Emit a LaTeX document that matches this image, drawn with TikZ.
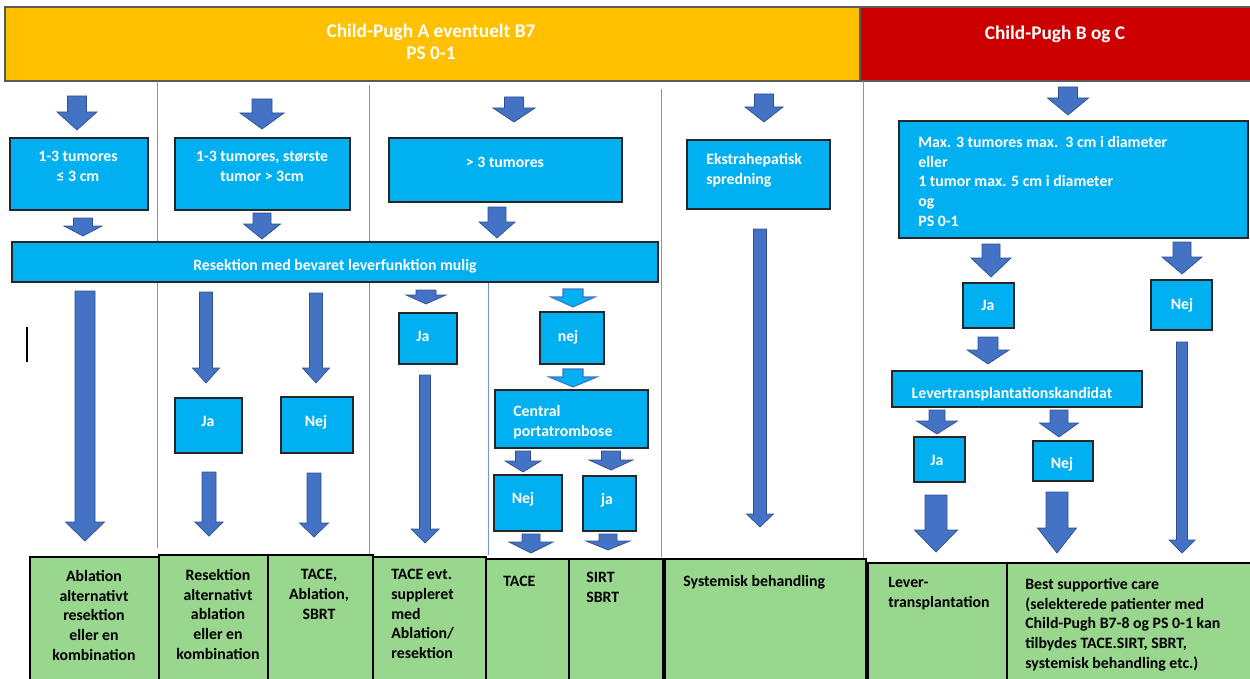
\documentclass[tikz,border=0pt]{standalone}
\usepackage{fontspec}
\setmainfont{Carlito}
\usetikzlibrary{fit}
\definecolor{hdryellow}{RGB}{255,192,0}
\definecolor{hdrred}{RGB}{204,0,0}
\definecolor{boxcyan}{RGB}{0,176,240}
\definecolor{boxgreen}{RGB}{153,214,142}
\definecolor{arrowblue}{RGB}{68,114,196}
\definecolor{arrowedge}{RGB}{47,82,143}
% block arrow: [style](centre x, top, head start, tip)(shaft half width, head half width)
\def\blockarrow[#1](#2,#3,#4,#5)(#6,#7){\draw[#1] ({#2-#6},#3) -- ({#2+#6},#3) -- ({#2+#6},#4) -- ({#2+#7},#4) -- (#2,#5) -- ({#2-#7},#4) -- ({#2-#6},#4) -- cycle;}
\tikzset{
  hbox/.style={draw=black!65, line width=0.9pt, inner sep=0pt},
  cbox/.style={draw=black!85, fill=boxcyan, line width=0.7pt, inner sep=0pt},
  gbox/.style={draw=black, fill=boxgreen, line width=0.6pt, inner sep=0pt},
  barrow/.style={fill=arrowblue, draw=arrowedge, line width=0.4pt},
  carrow/.style={fill=boxcyan, draw=arrowblue, line width=0.6pt},
  sep/.style={draw=arrowblue!75, line width=0.55pt},
  htxt/.style={text=white, font=\fontsize{11}{12.5}\selectfont\bfseries, inner sep=0pt, align=center, anchor=north, yshift=-2.3pt, execute at begin node=\strut},
  wtxt/.style={text=white, font=\fontsize{9}{11.2}\selectfont\bfseries, inner sep=0pt, align=center, anchor=north, yshift=-1.8pt, execute at begin node=\strut},
  wtxtl/.style={wtxt, align=left, anchor=north west},
  btxt/.style={wtxt, text=black},
  btxtl/.style={wtxtl, text=black}
}
\begin{document}
\begin{tikzpicture}[x=0.02cm, y=-0.02cm]
			%%%%% START %%%%%
			\useasboundingbox (0,0) rectangle (1250,679);
			
			% headers
			\node[hbox, fill=hdryellow, fit={(5,7) (860,81)}] (hdrA) {};
			\node[hbox, fill=hdrred, fit={(860,7) (1253,81)}] (hdrB) {};
			\node[htxt] (hdrAtxt) at (431,20) {Child-Pugh A eventuelt B7\\PS 0-1};
			\node[htxt] (hdrBtxt) at (1055,20) {Child-Pugh B og C};
			
			% column separators
			\draw[sep] (157,81) -- (157,548);
			\draw[sep] (369,85) -- (369,557);
			\draw[sep] (661,89) -- (661,557);
			\draw[sep] (488,283) -- (488,555);
			\draw[sep] (863,81) -- (863,560);
			\draw[line width=0.6pt] (27,327) -- (27,362);
			
			% criteria boxes
			\node[cbox, fit={(10,138) (148,210)}] (b1) {};
			\node[wtxt] (b1txt) at (78,148) {1-3 tumores\\≤ 3 cm};
			\node[cbox, fit={(175,138) (350,210)}] (b2) {};
			\node[wtxt] (b2txt) at (262,148) {1-3 tumores, største\\tumor > 3cm};
			\node[cbox, fit={(389,138) (622,202)}] (b3) {};
			\node[wtxt] (b3txt) at (505,150) {> 3 tumores};
			\node[cbox, fit={(687,140) (830,209)}] (b4) {};
			\node[wtxtl] (b4txt) at (706,150) {Ekstrahepatisk\\spredning};
			\node[cbox, fit={(899,121) (1248,238)}] (b5) {};
			\node[wtxtl] (b5txt) at (918,133) {Max. 3 tumores max.\ \ 3 cm i diameter\\eller\\1 tumor max. 5 cm i diameter\\og\\PS 0-1};
			
			\node[cbox, fit={(12,242) (658,282)}] (res) {};
			\node[wtxt] (restxt) at (335,253) {Resektion med bevaret leverfunktion mulig};
			
			% yes / no boxes
			\node[cbox, fit={(175,398) (242,453)}] (ja2) {};
			\node[wtxt] (ja2txt) at (208,409) {Ja};
			\node[cbox, fit={(281,397) (353,453)}] (nej2) {};
			\node[wtxt] (nej2txt) at (316,409) {Nej};
			\node[cbox, fit={(399,313) (457,364)}] (ja3) {};
			\node[wtxt] (ja3txt) at (423,324) {Ja};
			\node[cbox, fit={(540,312) (604,364)}] (nej4) {};
			\node[wtxt] (nej4txt) at (568,324) {nej};
			\node[cbox, fit={(495,390) (648,448)}] (cpt) {};
			\node[wtxtl] (cpttxt) at (513,402) {Central\\portatrombose};
			\node[cbox, fit={(494,475) (562,531)}] (nej4b) {};
			\node[wtxt] (nej4btxt) at (523,486) {Nej};
			\node[cbox, fit={(583,476) (636,531)}] (ja4) {};
			\node[wtxt] (ja4txt) at (607,487) {ja};
			
			\node[cbox, fit={(963,283) (1014,328)}] (jaR) {};
			\node[wtxt] (jaRtxt) at (988,293) {Ja};
			\node[cbox, fit={(1151,280) (1212,330)}] (nejR) {};
			\node[wtxt] (nejRtxt) at (1182,292) {Nej};
			\node[cbox, fit={(892,371) (1142,407)}] (lvk) {};
			\node[wtxt] (lvktxt) at (1012,381) {Levertransplantationskandidat};
			\node[cbox, fit={(914,437) (965,482)}] (jaL) {};
			\node[wtxt] (jaLtxt) at (937,448) {Ja};
			\node[cbox, fit={(1033,441) (1093,481)}] (nejL) {};
			\node[wtxt] (nejLtxt) at (1062,451) {Nej};
			
			% treatments
			\node[gbox, fit={(30,557) (159,690)}] (g1) {};
			\node[btxt] (g1txt) at (94,567) {Ablation\\alternativt\\resektion\\eller en\\kombination};
			\node[gbox, fit={(159,555) (268,690)}] (g2) {};
			\node[btxt] (g2txt) at (218,566) {Resektion\\alternativt\\ablation\\eller en\\kombination};
			\node[gbox, fit={(268,555) (373,690)}] (g3) {};
			\node[btxt] (g3txt) at (319,566) {TACE,\\Ablation,\\SBRT};
			\node[gbox, fit={(373,557) (486,690)}] (g4) {};
			\node[btxtl] (g4txt) at (391,566) {TACE evt.\\suppleret\\med\\Ablation/\\resektion};
			\node[gbox, fit={(486,559) (569,690)}] (g5) {};
			\node[btxtl] (g5txt) at (503,569) {TACE};
			\node[gbox, fit={(569,559) (663,690)}] (g6) {};
			\node[btxtl] (g6txt) at (586,569) {SIRT\\SBRT};
			\node[gbox, fit={(665,559) (866,690)}] (g7) {};
			\node[btxtl] (g7txt) at (683,569) {Systemisk behandling};
			\node[gbox, fit={(868,563) (1007,690)}] (g8) {};
			\node[btxtl] (g8txt) at (888,574) {Lever-\\transplantation};
			\node[gbox, fit={(1007,563) (1253,690)}] (g9) {};
			\node[btxtl] (g9txt) at (1025,575) {Best supportive care\\(selekterede patienter med\\Child-Pugh B7-8 og PS 0-1 kan\\tilbydes TACE.SIRT, SBRT,\\systemisk behandling etc.)};
			
			% block arrows
			\blockarrow[barrow](77,96,112,130)(9.5,20);
			\blockarrow[barrow](262,99,113,129)(10,22);
			\blockarrow[barrow](514,97,108,122)(9.5,21);
			\blockarrow[barrow](764,94,107,122)(9.5,19);
			\blockarrow[barrow](1068,87,98,115)(9.5,20.5);
			
			\blockarrow[barrow](83,218,226,236)(9.5,19);
			\blockarrow[barrow](262,213,224,239)(9,18.5);
			\blockarrow[barrow](497,207,222,238)(9,18);
			\blockarrow[barrow](760,229,514,527)(6.5,13.5);
			
			\blockarrow[barrow](85,291,522,541)(10,19.5);
			\blockarrow[barrow](206,292,368,383)(6.5,13.5);
			\blockarrow[barrow](316,293,368,383)(6.5,13.5);
			\blockarrow[barrow](426,290,295,304)(10,20);
			\blockarrow[barrow](425,375,529,543)(5.5,14);
			\blockarrow[barrow](209,472,522,536)(7,14);
			\blockarrow[barrow](314,473,523,537)(7,14.5);
			
			\blockarrow[carrow](573,289,297,307)(10,22);
			\blockarrow[carrow](573,369,377,387)(10,24);
			\blockarrow[barrow](523,451,461,472)(7.5,18);
			\blockarrow[barrow](611,451,460,470)(9.5,22);
			\blockarrow[barrow](531,534,542,553)(9,22);
			\blockarrow[barrow](608,534,541,550)(9,22);
			
			\blockarrow[barrow](991,244,258,277)(9,20);
			\blockarrow[barrow](1182,242,257,274)(9,20);
			\blockarrow[barrow](988,337,350,364)(10,21);
			\blockarrow[barrow](1182,342,540,553)(5.5,13);
			\blockarrow[barrow](937,410,421,434)(8,20.5);
			\blockarrow[barrow](1059,410,423,437)(9,19.5);
			\blockarrow[barrow](936,495,530,552)(11,21.5);
			\blockarrow[barrow](1057,492,528,553)(11,19.5);
			%%%%% END %%%%%
\end{tikzpicture}
\end{document}
